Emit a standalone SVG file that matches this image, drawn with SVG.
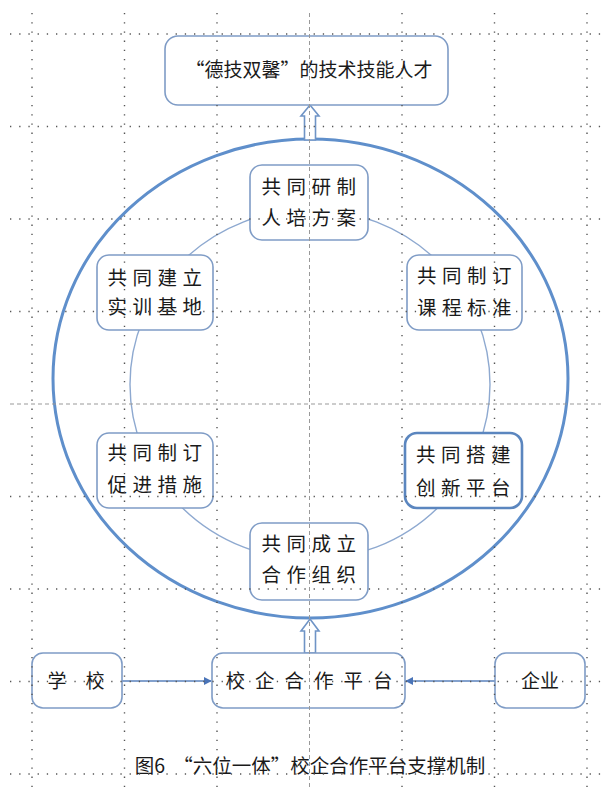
<svg xmlns="http://www.w3.org/2000/svg" width="601" height="787" viewBox="0 0 601 787">
<defs>
<style>
.box{fill:#fff;stroke:#7f9cc6;stroke-width:1.6}
.box2{fill:#fff;stroke:#5b86bf;stroke-width:2.6}
.t{font-family:"Noto Sans CJK SC","Noto Sans",sans-serif;font-size:19.5px;fill:#1a1a1a;text-anchor:middle;letter-spacing:5.5px}
.t0{font-family:"Noto Sans CJK SC","Noto Sans",sans-serif;font-size:19px;fill:#1a1a1a;text-anchor:middle}
.hollow{fill:#fff;stroke:#6f94c6;stroke-width:1.6}
.con{stroke:#5a82bd;stroke-width:1.6;fill:none}
.g{stroke:#555;stroke-width:1.4;stroke-dasharray:1.3 7.9;fill:none}
.gc{stroke:#999;stroke-width:1;stroke-dasharray:4 3;fill:none}
</style>
<marker id="ah" viewBox="0 0 10 10" refX="9" refY="5" markerWidth="8" markerHeight="8" markerUnits="userSpaceOnUse" orient="auto">
<path d="M0,0 L10,5 L0,10 z" fill="#4a74b8"/>
</marker>
</defs>
<rect width="601" height="787" fill="#fff"/>

<g id="rings">
<ellipse cx="310.5" cy="378.5" rx="257.5" ry="239.5" fill="none" stroke="#5f8fcb" stroke-width="3"/>
<ellipse cx="310" cy="384.5" rx="180" ry="175" fill="none" stroke="#8ea9d0" stroke-width="1.4"/>
</g>

<g id="connectors">
<polygon class="hollow" points="310,105 319,116 315.5,116 315.5,140 304.5,140 304.5,116 301,116"/>
<polygon class="hollow" points="310,619 319,631 315.5,631 315.5,653 304.5,653 304.5,631 301,631"/>
<line class="con" x1="122" y1="681" x2="211" y2="681" marker-end="url(#ah)"/>
<line class="con" x1="495" y1="681" x2="406" y2="681" marker-end="url(#ah)"/>
</g>

<g id="n-top">
<rect class="box" x="165" y="36" width="283" height="69" rx="13"/>
<text class="t0" x="309" y="77">“德技双馨”的技术技能人才</text>
</g>
<g id="n1">
<rect class="box" x="250" y="165" width="118" height="75" rx="12"/>
<text class="t" x="311.5" y="194">共同研制</text>
<text class="t" x="311.5" y="225">人培方案</text>
</g>
<g id="n2">
<rect class="box" x="97" y="255" width="116" height="75" rx="12"/>
<text class="t" x="157.5" y="285">共同建立</text>
<text class="t" x="157.5" y="314">实训基地</text>
</g>
<g id="n3">
<rect class="box" x="407" y="255" width="115" height="75" rx="12"/>
<text class="t" x="467" y="283">共同制订</text>
<text class="t" x="467" y="315">课程标准</text>
</g>
<g id="n4">
<rect class="box" x="97" y="433" width="116" height="75" rx="12"/>
<text class="t" x="157.5" y="460">共同制订</text>
<text class="t" x="157.5" y="492">促进措施</text>
</g>
<g id="n5">
<rect class="box2" x="405" y="433" width="117" height="75" rx="12"/>
<text class="t" x="466" y="462">共同搭建</text>
<text class="t" x="466" y="495">创新平台</text>
</g>
<g id="n6">
<rect class="box" x="250" y="523" width="118" height="77" rx="12"/>
<text class="t" x="311.5" y="551">共同成立</text>
<text class="t" x="311.5" y="582">合作组织</text>
</g>
<g id="n-school">
<rect class="box" x="32" y="653" width="90" height="55" rx="11"/>
<text class="t0" x="57" y="688">学</text>
<text class="t0" x="95" y="688">校</text>
</g>
<g id="n-platform">
<rect class="box" x="212" y="653" width="193" height="55" rx="11"/>
<text class="t" x="314" y="688" style="letter-spacing:10px">校企合作平台</text>
</g>
<g id="n-ent">
<rect class="box" x="495" y="653" width="90" height="55" rx="11"/>
<text class="t0" x="540" y="688">企业</text>
</g>

<g id="caption">
<text class="t0" x="310" y="773" style="font-size:19.5px">图6<tspan dx="8">“六位一体”校企合作平台支撑机制</tspan></text>
</g>

<g id="grid">
<path class="g" d="M32,13V787 M124.5,13V787 M217,13V787 M402,13V787 M494.5,13V787 M587,13V787"/>
<path class="g" d="M10,34H601 M10,126.5H601 M10,219H601 M10,311.5H601 M10,496.5H601 M10,589H601 M10,681.5H601 M10,774H601"/>
<path class="gc" d="M309.5,13V787 M10,404H601"/>
</g>
</svg>
